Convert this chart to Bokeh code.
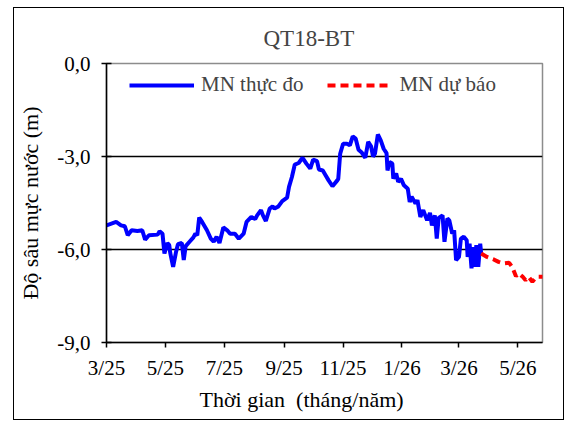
import pandas as pd
from bokeh.plotting import figure
from bokeh.models import FixedTicker, Legend, LegendItem, ColumnDataSource, Title
from bokeh.embed import file_html
from bokeh.resources import INLINE

# ---------------- data ----------------
start_date = "2025-03-01"
# observed (MN thực đo): day offsets from start_date, depth (m)
obs_days = [0, 10, 15, 19, 22, 26, 32, 37, 40, 44, 53, 55, 58, 60, 63, 65, 66, 69, 72, 74,
            78, 80, 82, 86, 90, 92, 94, 96, 99, 104, 108, 111, 114, 117, 121, 125, 128, 133,
            137, 142, 145, 150, 154, 156, 160, 162, 165, 169, 172, 174, 178, 182, 187, 189,
            192, 195, 199, 203, 207, 211, 214, 218, 220, 224, 227, 230, 234, 239, 240, 242,
            245, 249, 252, 255, 258, 261, 264, 268, 271, 274, 276, 278, 281, 284, 287, 290,
            291, 293, 296, 297, 300, 302, 305, 308, 312, 314, 316, 320, 322, 325, 328, 332,
            335, 337, 340, 342, 344, 348, 350, 353, 355, 358, 360, 362, 365, 367, 370, 373,
            374, 376, 378, 380, 381, 383, 385, 387, 388]
obs_depth = [-5.22, -5.11, -5.22, -5.25, -5.54, -5.38, -5.40, -5.38, -5.68, -5.54, -5.52, -5.41,
             -5.49, -6.13, -5.79, -5.86, -6.11, -6.56, -6.08, -5.83, -5.79, -6.34, -5.89, -5.75,
             -5.61, -5.49, -5.54, -4.97, -5.11, -5.38, -5.65, -5.75, -5.59, -5.79, -5.29, -5.38,
             -5.49, -5.49, -5.65, -5.49, -5.11, -4.95, -5.02, -4.90, -4.73, -4.90, -5.08, -4.68,
             -4.61, -4.68, -4.61, -4.44, -4.33, -3.98, -3.66, -3.26, -3.21, -3.04, -3.23, -3.39,
             -3.10, -3.15, -3.42, -3.45, -3.61, -3.77, -3.96, -3.77, -3.72, -2.91, -2.59, -2.59,
             -2.64, -2.35, -2.42, -2.78, -2.86, -3.04, -2.53, -2.67, -3.00, -2.91, -2.29, -2.48,
             -2.75, -2.89, -3.45, -3.18, -3.23, -3.71, -3.55, -3.82, -3.72, -3.93, -4.04, -4.47,
             -4.30, -4.52, -4.41, -4.95, -4.73, -5.06, -4.82, -5.22, -4.90, -5.65, -4.98, -4.90,
             -5.75, -5.00, -5.06, -5.49, -5.38, -6.34, -6.24, -5.65, -5.59, -5.70, -6.24, -5.81,
             -6.61, -5.92, -6.56, -5.86, -6.56, -5.81, -6.13]
# forecast (MN dự báo)
fc_days = [388, 394, 401, 406, 411, 417, 420, 424, 427, 431, 434, 437, 441, 444, 447, 452]
fc_depth = [-6.13, -6.24, -6.32, -6.40, -6.45, -6.43, -6.56, -6.86, -6.77, -6.88, -6.99,
            -6.88, -7.04, -6.93, -6.88, -6.88]

tick_dates = ["2025-03-01", "2025-05-01", "2025-07-01", "2025-09-01", "2025-11-01",
              "2026-01-01", "2026-03-01", "2026-05-01"]
tick_labels = ["3/25", "5/25", "7/25", "9/25", "11/25", "1/26", "3/26", "5/26"]
y_ticks = [0, -3, -6, -9]
y_tick_labels = ["0,0", "-3,0", "-6,0", "-9,0"]
x_end_day = 451.5

FONT = "Liberation Serif"

t0 = pd.Timestamp(start_date)
x_ticks = [int((pd.Timestamp(d) - t0).days) for d in tick_dates]

p = figure(width=551, height=413, output_backend="svg", toolbar_location=None,
           x_range=(0, x_end_day), y_range=(-9, 0),
           min_border_left=92, min_border_right=23, min_border_top=55, min_border_bottom=79)
p.margin = (7, 0, 0, 13)
p.styles = {"border": "1.5px solid black"}

p.title.text = "QT18-BT"
p.title.text_font = FONT
p.title.text_font_size = "23px"
p.title.text_font_style = "normal"
p.title.align = "left"
p.title.offset = 157
p.title.standoff = 26

p.outline_line_color = "#8c8c8c"
p.outline_line_width = 1.5

src_obs = ColumnDataSource(dict(x=obs_days, y=obs_depth))
src_fc = ColumnDataSource(dict(x=fc_days, y=fc_depth))
r_obs = p.line("x", "y", source=src_obs, line_color="#0000ff", line_width=4)
r_fc = p.line("x", "y", source=src_fc, line_color="#ff0000", line_width=4, line_dash="8 5")

# axes
p.xaxis.ticker = FixedTicker(ticks=x_ticks)
p.xaxis.major_label_overrides = {t: l for t, l in zip(x_ticks, tick_labels)}
p.yaxis.ticker = FixedTicker(ticks=y_ticks)
p.yaxis.major_label_overrides = {t: l for t, l in zip(y_ticks, y_tick_labels)}
for ax in (p.xaxis[0], p.yaxis[0]):
    ax.axis_line_color = "black"
    ax.axis_line_width = 1.5
    ax.major_tick_line_color = "black"
    ax.major_tick_line_width = 1.5
    ax.minor_tick_line_color = None
    ax.major_label_text_font = FONT
    ax.major_label_text_font_size = "21px"
    ax.major_label_text_color = "black"
    ax.axis_label_text_font = FONT
    ax.axis_label_text_font_size = "22px"
    ax.axis_label_text_font_style = "normal"
    ax.axis_label_text_color = "black"
p.xaxis.major_tick_out = 5
p.xaxis.major_tick_in = 0
p.yaxis.major_tick_out = 5
p.yaxis.major_tick_in = 5
p.yaxis.axis_label = "Độ sâu mực nước (m)"
p.xaxis.major_label_standoff = 8
p.yaxis.major_label_standoff = 11
p.yaxis.axis_label_standoff = 11

# x-axis title, centred on the chart area (as in the reference) rather than the frame
x_title = Title(text="Thời gian\u00a0 (tháng/năm)", align="left", offset=93,
                text_font=FONT, text_font_size="22px", text_font_style="normal",
                text_color="black", standoff=4)
p.add_layout(x_title, "below")

p.xgrid.visible = False
p.ygrid.ticker = FixedTicker(ticks=[-3, -6])
p.ygrid.grid_line_color = "black"
p.ygrid.grid_line_width = 1.5

legend = Legend(items=[LegendItem(label="MN thực đo", renderers=[r_obs]),
                       LegendItem(label="MN dự báo", renderers=[r_fc])],
                orientation="horizontal", location=(23, 245))
legend.border_line_color = None
legend.background_fill_alpha = 0
legend.label_text_font = FONT
legend.label_text_font_size = "21px"
legend.glyph_width = 65
legend.glyph_height = 20
legend.label_standoff = 7
legend.spacing = 24
legend.padding = 4
legend.margin = 0
p.add_layout(legend)

open("out.html", "w").write(file_html(p, INLINE))
